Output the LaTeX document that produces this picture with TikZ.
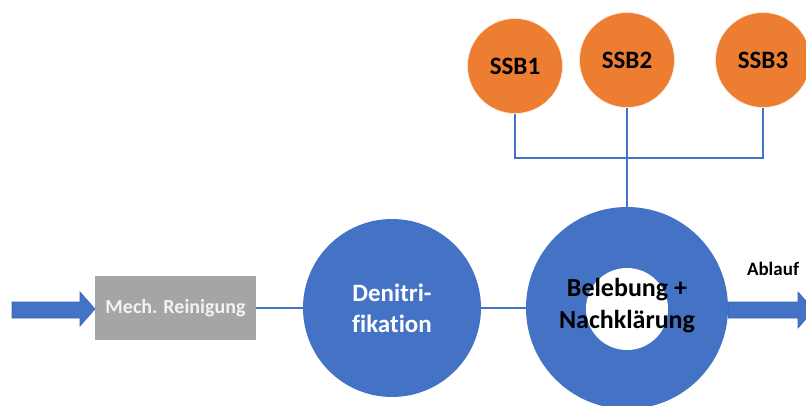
\documentclass[tikz,border=0pt]{standalone}
\usepackage{fontspec}
\setmainfont{Carlito}[Ligatures=NoCommon]
\definecolor{pblue}{HTML}{4472C4}
\definecolor{pblueedge}{HTML}{3A64B2}
\definecolor{porange}{HTML}{ED7D31}
\definecolor{pgray}{HTML}{A5A5A5}
\begin{document}
\begin{tikzpicture}[x=1pt,y=-1pt,
  basin/.style={circle,fill=pblue,inner sep=0pt,minimum size=178pt,text=white,
    font=\fontsize{25}{31}\selectfont\bfseries,align=center},
  ssb/.style={circle,fill=porange,draw=white!85!porange,line width=0.6pt,inner sep=0pt,
    minimum size=95pt,font=\fontsize{25}{30}\selectfont\bfseries},
  pipe/.style={draw=pblue,line width=1.3pt},
  flow/.style={fill=pblue,draw=pblueedge,line width=0.6pt}]
\useasboundingbox (0,0) rectangle (806,405);
\clip (0,0) rectangle (806,405);

% mechanical treatment
\node[fill=pgray,minimum width=161pt,minimum height=64pt,inner sep=0pt,
  text=white!95!black,font=\fontsize{20}{24}\selectfont\bfseries] (mech) at (175.5,308) {Mech. Reinigung};

% denitrification tank
\node[basin] (deni) at (392,308) {Denitri-\\fikation};

% activated sludge + secondary clarifier (ring)
\node[basin,minimum size=202pt] (bel) at (627,308) {};
\node[circle,fill=white,minimum size=82pt,inner sep=0pt] (belin) at (627,309) {};
\node[font=\fontsize{26}{32}\selectfont\bfseries,align=center] (beltxt) at (627,306) {Belebung +\\Nachklärung};

% storage tanks
\node[ssb] (s1) at (515,66) {SSB1};
\node[ssb] (s2) at (627,60) {SSB2};
\node[ssb] (s3) at (763,60) {SSB3};

% piping
\draw[pipe] (mech.east) -- (deni.west);
\draw[pipe] (deni.east) -- (bel.west);
\coordinate (j1) at (515,158);
\coordinate (j3) at (763,158);
\draw[pipe] (s1.south) -- (j1) -- (j3) -- (s3.south);
\draw[pipe] (s2.south) -- (bel.north);

% inflow arrow
\coordinate (intip) at (95,309);
\fill[flow] (12,302) -- (80,302) -- (80,292) -- (intip) -- (80,326) -- (80,318) -- (12,318) -- cycle;

% outflow arrow
\coordinate (outtip) at (814,310);
\fill[flow] (bel.east |- 0,302) -- (798,302) -- (798,292) -- (outtip) -- (798,328) -- (798,318) -- (bel.east |- 0,318) -- cycle;
\node[font=\fontsize{19}{23}\selectfont\bfseries] (ablauf) at (773,269) {Ablauf};
\end{tikzpicture}
\end{document}
